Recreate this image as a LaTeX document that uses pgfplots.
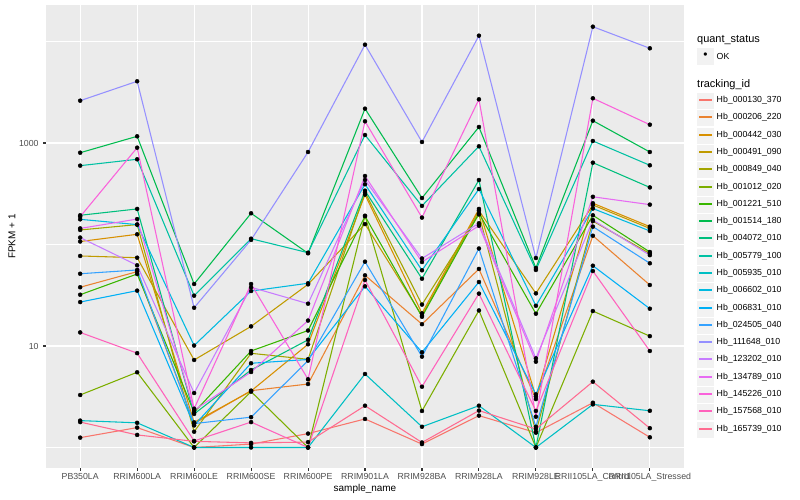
\documentclass[border=0pt]{standalone}
\usepackage{fontspec}
\setmainfont{Liberation Sans}
\usepackage{pgfplots}
\usepackage{pgfplotstable}
\pgfplotsset{compat=1.18}
\definecolor{panelbg}{HTML}{EBEBEB}
\definecolor{keybg}{HTML}{F2F2F2}
\definecolor{ticktxt}{HTML}{4D4D4D}
\definecolor{tickcol}{HTML}{333333}
\definecolor{c1}{HTML}{F8766D}
\definecolor{c2}{HTML}{EA8331}
\definecolor{c3}{HTML}{D89000}
\definecolor{c4}{HTML}{C09B00}
\definecolor{c5}{HTML}{A3A500}
\definecolor{c6}{HTML}{7CAE00}
\definecolor{c7}{HTML}{39B600}
\definecolor{c8}{HTML}{00BB4E}
\definecolor{c9}{HTML}{00BF7D}
\definecolor{c10}{HTML}{00C1A3}
\definecolor{c11}{HTML}{00BFC4}
\definecolor{c12}{HTML}{00BAE0}
\definecolor{c13}{HTML}{00B0F6}
\definecolor{c14}{HTML}{35A2FF}
\definecolor{c15}{HTML}{9590FF}
\definecolor{c16}{HTML}{C77CFF}
\definecolor{c17}{HTML}{E76BF3}
\definecolor{c18}{HTML}{FA62DB}
\definecolor{c19}{HTML}{FF62BC}
\definecolor{c20}{HTML}{FF6C91}

\pgfplotstableread{
x  s1   s2    s3   s4    s5   s6   s7    s8    s9   s10   s11  s12  s13  s14  s15    s16  s17  s18   s19  s20
0  1.25 37.9  107  77.1  139  3.29 32.0  802   194  598   1.84 177  27.1 51.5 2611   117  144  188   13.6 1.78
1  1.57 54.0  126  74.1  157  5.51 51.2  1164  224  691   1.75 157  35.1 56.1 4055   62.4 178  899   8.5  1.33
2  1.0  1.72  1.77 7.28  1.43 1.0  2.22  40.8  2.14 31.3  1.0  10.1 1.65 1.72 23.8   3.44 2.33 2.41  1.16 1.15
3  1.08 3.63  3.6  15.6  8.47 3.55 8.93  203   5.80 114   1.0  34.8 6.76 1.99 111    37.9 5.54 40.8  1.78 1.11
4  1.37 4.22  10.4 40.5  7.39 1.0  14.2  81.9  11.5 83.0  1.0  41.5 7.36 7.17 815    26.1 17.8 4.70  1.0  1.13
5  1.91 49.7  310  159   327  192  190   2178  339  1199  5.30 392  38.7 67.7 9301   432  473  1636  44.7 2.58
6  1.08 16.4  21.0 19.9  25.6 2.29 19.4  287   46.0 240   1.60 55.7 8.67 7.85 1023   72.8 67.2 184   3.97 1.12
7  2.06 57.4  224  215   198  22.4 203   1438  432  928   2.58 352  42.7 91.3 11410  162  153  2695  32.8 2.31
8  1.40 3.0   3.17 33.0  1.42 1.0  20.8  58.7  1.0  56.1  1.0  24.9 3.34 1.60 73.6   7.56 7.0  2.01  2.29 1.52
9  2.76 122   255  245   170  22.1 194   1659  640  1047  2.66 226  61.8 150  13990  174  295  2757  54.8 4.45
10 1.26 39.9  150  144   81.5 12.5 84.4  815   365  603   2.3  136  23.3 65.3 8570   78.5 247  1515  8.93 1.55
}\data

\begin{document}
\begin{tikzpicture}[x=1bp,y=1bp]
\useasboundingbox (0,0) rectangle (800,500);
\begin{axis}[
  at={(46bp,32bp)}, anchor=south west,
  scale only axis, width=638bp, height=463bp,
  xmin=-0.6, xmax=10.6,
  ymode=log, ymin=0.628, ymax=22890,
  axis background/.style={fill=panelbg},
  axis line style={draw=none},
  xtick={0,...,10},
  xticklabels={PB350LA,RRIM600LA,RRIM600LE,RRIM600SE,RRIM600PE,RRIM901LA,RRIM928BA,RRIM928LA,RRIM928LE,RRII105LA\_Control,RRII105LA\_Stressed},
  ytick={10,1000}, yticklabels={10,1000},
  minor ytick={1,100,10000},
  grid=both,
  major grid style={white, line width=1.07bp},
  minor grid style={white, line width=0.53bp},
  tick align=outside, tick pos=left,
  major tick length=2.75bp, minor tick length=0pt,
  tick style={tickcol, line width=1.07bp},
  ticklabel style={font=\fontsize{8.8}{10}\selectfont, text=ticktxt},
  xticklabel style={anchor=north, inner sep=0pt, yshift=-2.5bp},
  yticklabel style={anchor=east, inner sep=0pt, xshift=-4.5bp},
  xlabel={sample\_name}, ylabel={FPKM + 1},
  label style={font=\fontsize{11}{13}\selectfont},
  every axis x label/.style={at={(axis description cs:0.5,-0.0445)}, anchor=center},
  every axis y label/.style={at={(axis description cs:-0.0533,0.5)}, rotate=90, anchor=center},
]
\pgfplotsinvokeforeach{1,...,20}{
  \addplot[c#1, line width=1.07bp, no marks] table[x=x, y=s#1]{\data};
}
\pgfplotsinvokeforeach{1,...,20}{
  \addplot[only marks, mark=*, mark size=2bp, black] table[x=x, y=s#1]{\data};
}
\end{axis}
% legend
\node[anchor=west, font=\fontsize{11}{13}\selectfont, inner sep=0pt] at (697,460) {quant\_status};
\fill[keybg] (697,435) rectangle (714,452);
\node[font=\fontsize{12}{12}\selectfont, inner sep=0pt] at (705.5,444) {•};
\node[anchor=west, font=\fontsize{8.8}{10}\selectfont, inner sep=0pt] at (716.5,443.5) {OK};
\node[anchor=west, font=\fontsize{11}{13}\selectfont, inner sep=0pt] at (697,415.7) {tracking\_id};
\foreach \cc/\t [count=\i from 0] in {c1/Hb\_000130\_370, c2/Hb\_000206\_220, c3/Hb\_000442\_030, c4/Hb\_000491\_090, c5/Hb\_000849\_040, c6/Hb\_001012\_020, c7/Hb\_001221\_510, c8/Hb\_001514\_180, c9/Hb\_004072\_010, c10/Hb\_005779\_100, c11/Hb\_005935\_010, c12/Hb\_006602\_010, c13/Hb\_006831\_010, c14/Hb\_024505\_040, c15/Hb\_111648\_010, c16/Hb\_123202\_010, c17/Hb\_134789\_010, c18/Hb\_145226\_010, c19/Hb\_157568\_010, c20/Hb\_165739\_010} {
  \pgfmathsetmacro\yc{floor(500-100.7-17.28*\i)+0.5}
  \fill[keybg] (697,\yc-8.5) rectangle (714,\yc+7.5);
  \fill[\cc] (699,\yc-1) rectangle (712,\yc+1);
  \node[anchor=west, font=\fontsize{8.8}{10}\selectfont, inner sep=0pt] at (716.5,\yc) {\t};
}
\end{tikzpicture}
\end{document}
